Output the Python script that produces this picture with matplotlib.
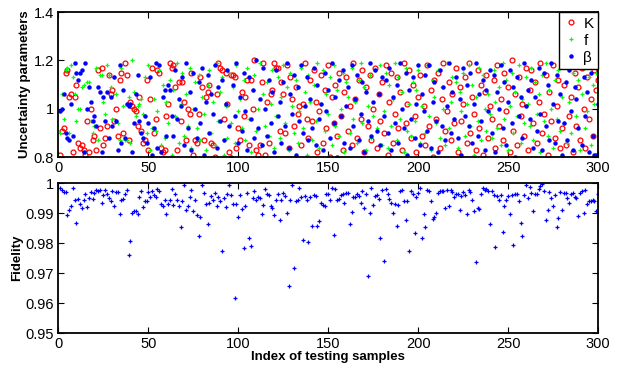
import numpy as np
import matplotlib.pyplot as plt

plt.rcParams['font.family'] = ['Liberation Sans', 'DejaVu Sans']

# sample index
idx = np.arange(1, 301)

# uncertainty parameters (approx.)
K = [0.81,0.91,0.92,1.15,1.16,1.05,1.06,0.82,1.05,1.10,0.86,0.84,0.85,0.83,0.81,0.95,0.82,1.00,0.87,0.89,
     0.83,1.16,0.92,1.17,0.85,0.88,0.93,1.14,1.06,1.08,0.95,1.00,0.89,1.12,1.15,0.90,1.19,1.14,0.87,1.03,
     1.01,1.00,0.99,0.93,1.05,0.91,0.86,0.87,1.12,0.83,1.04,1.17,0.90,0.96,1.16,1.15,0.84,0.82,0.83,0.97,
     1.02,1.19,1.17,1.18,1.09,0.83,1.11,0.95,1.11,1.03,0.87,1.00,0.98,1.15,0.81,0.87,0.86,0.98,1.13,1.09,
     0.87,1.05,1.07,1.10,0.86,0.85,0.80,1.06,1.19,1.17,1.16,0.96,1.15,1.02,0.82,1.14,1.14,1.13,0.84,0.92,
     0.87,1.07,0.97,1.05,1.12,0.85,1.12,1.00,1.20,0.83,0.81,0.85,1.11,1.19,0.81,1.03,0.86,1.06,1.08,1.19,
     1.17,1.17,0.91,1.11,1.06,0.90,1.18,0.84,1.13,1.04,0.93,1.09,0.98,1.01,0.85,1.02,1.19,0.96,0.88,1.12,
     0.95,1.16,1.03,0.82,0.99,1.14,0.86,1.08,0.92,1.18,0.80,1.05,0.94,1.10,0.89,1.15,0.97,0.83,1.07,1.13,
     0.91,1.01,0.85,1.19,1.04,0.88,1.12,0.96,1.16,0.82,1.09,0.93,1.14,0.87,1.00,1.17,0.84,1.06,0.95,1.11,
     0.90,1.18,0.81,1.03,1.15,0.86,0.98,1.13,0.92,1.07,0.83,1.19,0.94,1.02,1.16,0.88,1.10,0.97,0.82,1.05,
     1.14,0.89,1.01,0.85,1.18,0.93,1.08,0.80,1.12,0.96,1.15,0.84,1.04,1.19,0.91,0.99,1.11,0.87,1.06,0.94,
     1.17,0.82,1.09,0.95,1.02,1.13,0.86,1.19,0.90,1.05,0.98,0.83,1.16,0.92,1.10,0.81,1.07,1.14,0.88,1.01,
     0.96,1.12,0.84,1.18,0.93,1.04,0.87,1.15,0.99,1.09,0.82,1.20,0.91,1.06,0.85,1.13,0.97,1.02,0.89,1.17,
     0.83,1.08,1.16,0.94,1.11,0.86,1.03,1.19,0.90,0.98,1.14,0.81,1.07,0.95,1.18,0.88,1.01,1.12,0.84,0.92,
     1.10,0.85,1.19,0.97,1.05,0.82,1.15,0.93,1.09,0.87,1.17,1.00,0.84,1.13,0.96,1.04,0.89,1.16,1.08,1.12]

f = [0.90,1.06,0.96,1.16,1.17,0.90,1.18,1.13,1.06,0.95,1.00,1.00,1.09,1.10,0.82,1.11,1.11,0.95,0.90,0.93,
     1.17,0.87,1.14,1.14,1.03,0.98,1.18,1.14,1.09,0.96,1.13,1.06,0.94,0.87,1.17,1.01,0.87,0.87,1.05,0.86,
     1.20,1.07,0.97,1.01,1.02,1.04,0.98,1.13,0.90,1.18,0.83,0.92,1.04,0.91,0.99,1.16,0.85,1.10,0.88,1.03,
     0.94,1.12,0.81,1.08,0.97,1.19,0.86,1.02,1.15,0.89,1.06,0.93,1.17,0.84,1.00,1.11,0.92,1.14,0.87,1.05,
     0.98,0.83,1.10,1.16,0.90,1.03,0.85,1.19,0.95,1.07,1.13,0.81,1.01,0.88,1.15,0.94,1.09,0.86,1.18,0.99,
     1.04,0.92,1.12,0.87,1.17,0.96,0.82,1.08,1.14,0.91,1.00,1.19,0.85,1.06,0.93,1.11,0.89,1.02,1.16,0.84,
     0.97,1.13,0.88,1.05,1.18,0.94,1.09,0.83,1.15,1.01,0.90,1.12,0.86,0.99,1.17,0.92,1.07,0.81,1.14,1.03,
     0.87,1.10,0.95,1.19,0.84,1.02,1.16,0.91,1.06,0.98,1.13,0.85,1.18,0.93,1.08,0.89,1.00,1.15,0.82,1.11,
     1.05,0.90,1.17,0.96,1.03,0.86,1.12,1.19,0.94,1.09,0.83,1.01,1.14,0.88,0.97,1.16,0.92,1.06,1.18,0.85,
     0.99,1.15,0.84,1.10,0.93,1.04,1.19,0.87,1.13,0.96,1.07,0.82,1.17,0.91,1.02,0.89,1.11,0.95,1.08,1.16,
     0.86,1.01,1.14,0.90,1.18,0.97,0.83,1.12,1.05,0.94,1.16,0.88,1.09,1.00,0.85,1.19,0.92,1.03,1.13,0.96,
     1.11,0.84,1.07,0.99,1.15,0.89,1.02,1.18,0.93,1.10,0.81,1.05,0.95,1.17,0.87,1.14,1.00,0.91,1.06,0.98,
     0.88,1.16,1.03,0.92,1.09,0.85,1.19,0.96,1.12,0.83,1.01,1.15,0.90,1.07,0.97,1.18,0.86,1.04,0.94,1.13,
     1.02,0.93,1.17,0.87,1.11,0.98,1.06,0.82,1.14,0.95,1.19,0.89,1.08,1.00,0.84,1.12,0.96,1.16,0.91,1.05,
     0.94,1.18,0.86,1.03,0.90,1.15,1.09,0.97,1.12,0.83,1.06,1.17,0.92,0.99,1.13,0.85,1.10,1.02,1.15,1.07]

beta = [0.99,1.00,1.06,0.90,0.88,0.87,1.02,0.89,1.19,1.15,1.12,1.15,1.16,0.82,1.19,1.00,1.09,1.03,0.95,0.97,
        0.93,1.09,1.07,0.82,1.05,0.95,1.07,0.88,1.05,0.93,1.13,0.95,0.83,1.18,0.86,1.08,0.88,1.02,1.01,1.02,
        0.82,0.94,1.06,1.14,0.95,0.90,0.88,0.97,0.86,0.94,1.13,0.81,0.92,1.19,0.84,1.18,0.82,1.05,1.08,0.89,
        1.10,1.08,0.97,0.89,1.16,0.96,1.04,1.01,1.13,0.85,1.19,0.92,1.07,0.83,1.15,1.00,0.88,1.11,0.94,1.17,
        0.81,1.03,1.14,0.90,1.06,0.98,1.18,0.84,1.09,0.95,1.12,0.87,1.02,1.16,0.93,0.80,1.10,0.97,1.19,0.86,
        1.05,0.91,1.15,0.99,0.83,1.13,0.96,1.08,0.88,1.20,0.92,1.04,0.85,1.17,1.00,0.89,1.12,0.94,1.07,0.82,
        1.16,0.97,1.03,0.86,1.11,0.93,1.19,0.84,1.06,0.98,1.14,0.81,1.09,0.95,1.18,0.90,1.01,1.13,0.87,1.04,
        0.92,1.17,0.85,1.10,0.96,1.02,0.83,1.15,0.99,1.08,0.88,1.19,0.94,1.05,0.80,1.12,0.97,1.16,0.86,1.01,
        1.09,0.84,1.18,0.93,1.04,1.14,0.87,0.98,1.11,0.82,1.07,0.95,1.19,0.89,1.03,1.16,0.91,1.06,0.85,1.13,
        0.97,1.12,0.90,1.17,0.83,1.05,0.94,1.10,0.86,1.19,1.00,0.92,1.15,0.81,1.08,0.96,1.13,0.88,1.02,1.18,
        0.85,1.06,0.99,1.14,0.91,1.18,0.84,1.03,1.11,0.95,0.82,1.16,0.93,1.09,0.87,1.01,1.19,0.90,1.07,0.96,
        1.13,0.88,1.04,0.81,1.17,0.97,1.10,0.93,1.15,0.86,1.02,1.19,0.89,1.06,0.95,1.12,0.83,1.08,0.99,1.16,
        0.90,1.14,0.82,1.07,1.00,1.18,0.92,1.11,0.85,1.03,1.16,0.94,1.09,0.80,1.13,0.97,1.05,0.88,1.19,1.01,
        1.08,0.96,1.12,0.84,1.05,0.91,1.17,0.98,0.83,1.15,0.93,1.10,0.87,1.19,1.02,0.86,1.14,0.95,1.06,0.81,
        0.94,1.11,0.87,1.16,0.99,0.83,1.09,1.04,0.92,1.18,0.85,1.13,0.97,1.07,0.82,1.15,0.89,0.81,0.81,1.02]

# fidelity per testing sample
fid = [0.9985,0.9976,0.9972,0.9971,0.9895,0.9910,0.9925,0.9985,0.9945,0.9867,0.9948,0.9932,0.9918,0.9945,0.9965,0.9920,0.9950,0.9972,0.9948,0.9968,
       0.9978,0.9975,0.9977,0.9935,0.9962,0.9977,0.9965,0.9950,0.9942,0.9973,0.9925,0.9970,0.9971,0.9897,0.9945,0.9948,0.9965,0.9978,0.9761,0.9808,
       0.9901,0.9909,0.9908,0.9897,0.9955,0.9975,0.9920,0.9942,0.9942,0.9970,0.9955,0.9975,0.9960,0.9955,0.9982,0.9975,0.9932,0.9925,0.9945,0.9898,
       0.9930,0.9945,0.9982,0.9928,0.9965,0.9945,0.9925,0.9853,0.9940,0.9995,0.9910,0.9925,0.9955,0.9978,0.9908,0.9945,0.9895,0.9823,0.9888,0.9993,
       0.9968,0.9930,0.9864,0.9935,0.9958,0.9945,0.9968,0.9925,0.9955,0.9940,0.9774,0.9950,0.9920,0.9965,0.9995,0.9962,0.9930,0.9619,0.9932,0.9886,
       0.9962,0.9915,0.9783,0.9925,0.9968,0.9816,0.9791,0.9950,0.9975,0.9945,0.9955,0.9950,0.9899,0.9928,0.9982,0.9965,0.9962,0.9925,0.9918,0.9893,
       0.9945,0.9965,0.9876,0.9945,0.9968,0.9958,0.9900,0.9659,0.9945,0.9993,0.9719,0.9940,0.9945,0.9983,0.9955,0.9810,0.9958,0.9945,0.9803,0.9955,
       0.9856,0.9960,0.9958,0.9856,0.9874,0.9935,0.9928,0.9925,0.9965,0.9965,0.9945,0.9985,0.9827,0.9980,0.9945,0.9948,0.9960,0.9965,0.9935,0.9968,
       0.9966,0.9864,0.9904,0.9955,0.9955,0.9965,0.9958,0.9935,0.9975,0.9918,0.9965,0.9691,0.9902,0.9985,0.9928,0.9958,0.9960,0.9948,0.9817,0.9978,
       0.9741,0.9980,0.9965,0.9948,0.9935,0.9902,0.9930,0.9859,0.9928,0.9975,0.9978,0.9940,0.9879,0.9942,0.9773,0.9975,0.9965,0.9834,0.9955,0.9968,
       0.9985,0.9819,0.9899,0.9853,0.9978,0.9975,0.9940,0.9880,0.9888,0.9901,0.9968,0.9975,0.9975,0.9975,0.9918,0.9978,0.9925,0.9978,0.9970,0.9955,
       0.9965,0.9963,0.9910,0.9958,0.9970,0.9960,0.9899,0.9978,0.9972,0.9945,0.9908,0.9738,0.9918,0.9915,0.9965,0.9985,0.9978,0.9982,0.9975,0.9864,
       0.9975,0.9962,0.9788,0.9958,0.9945,0.9960,0.9839,0.9925,0.9945,0.9958,0.9896,0.9960,0.9794,0.9965,0.9965,0.9940,0.9867,0.9824,0.9960,0.9995,
       0.9950,0.9988,0.9968,0.9908,0.9965,0.9965,0.9980,0.9990,0.9998,0.9975,0.9876,0.9911,0.9970,0.9950,0.9925,0.9960,0.9854,0.9884,0.9972,0.9910,
       0.9968,0.9968,0.9950,0.9935,0.9965,0.9968,0.9955,0.9950,0.9891,0.9968,0.9975,0.9901,0.9978,0.9930,0.9940,0.9940,0.9945,0.9940,0.9906,0.9965]

xticks = [0, 50, 100, 150, 200, 250, 300]

fig = plt.figure(figsize=(6.21, 3.65), dpi=100)

def matlab_axes(ax):
    ax.tick_params(direction='in', top=True, right=True, length=4.5, width=0.8, labelsize=10.5, pad=3)
    for s in ax.spines.values():
        s.set_linewidth(1.3)

## top panel
ax1 = fig.add_axes([0.094, 0.569, 0.869, 0.398])
ax1.plot(idx, K, 'o', color='r', mfc='none', ms=3.5, mew=0.9, ls='none', label='K')
ax1.plot(idx, f, '+', color='lime', ms=3.5, mew=0.9, ls='none', label='f')
ax1.plot(idx, beta, 'o', color='b', mec='b', ms=2.2, ls='none', label='β')
ax1.set_xlim(0, 300)
ax1.set_ylim(0.8, 1.4)
ax1.set_xticks(xticks)
ax1.set_yticks([0.8, 1.0, 1.2, 1.4])
ax1.set_yticklabels(['0.8', '1', '1.2', '1.4'])
ax1.set_ylabel('Uncertainty parameters', fontsize=9.5, fontweight='bold', labelpad=2)
matlab_axes(ax1)
leg = ax1.legend(loc='upper right', fontsize=11, frameon=True, fancybox=False,
                 framealpha=1, borderaxespad=0, handlelength=1.0, handletextpad=0.3,
                 labelspacing=0.2, borderpad=0.3, markerscale=1.0)
leg.get_frame().set_edgecolor('black')
leg.get_frame().set_linewidth(1.0)

## bottom panel
ax2 = fig.add_axes([0.094, 0.087, 0.869, 0.411])
ax2.plot(idx, fid, '+', color='b', ms=3.5, mew=0.9, ls='none')
ax2.set_xlim(0, 300)
ax2.set_ylim(0.95, 1.0)
ax2.set_xticks(xticks)
ax2.set_yticks([0.95, 0.96, 0.97, 0.98, 0.99, 1.0])
ax2.set_yticklabels(['0.95', '0.96', '0.97', '0.98', '0.99', '1'])
ax2.set_ylabel('Fidelity', fontsize=9.5, fontweight='bold', labelpad=2)
ax2.set_xlabel('Index of testing samples', fontsize=9.5, fontweight='bold', labelpad=0)
matlab_axes(ax2)

plt.savefig('out.png', dpi=100)
